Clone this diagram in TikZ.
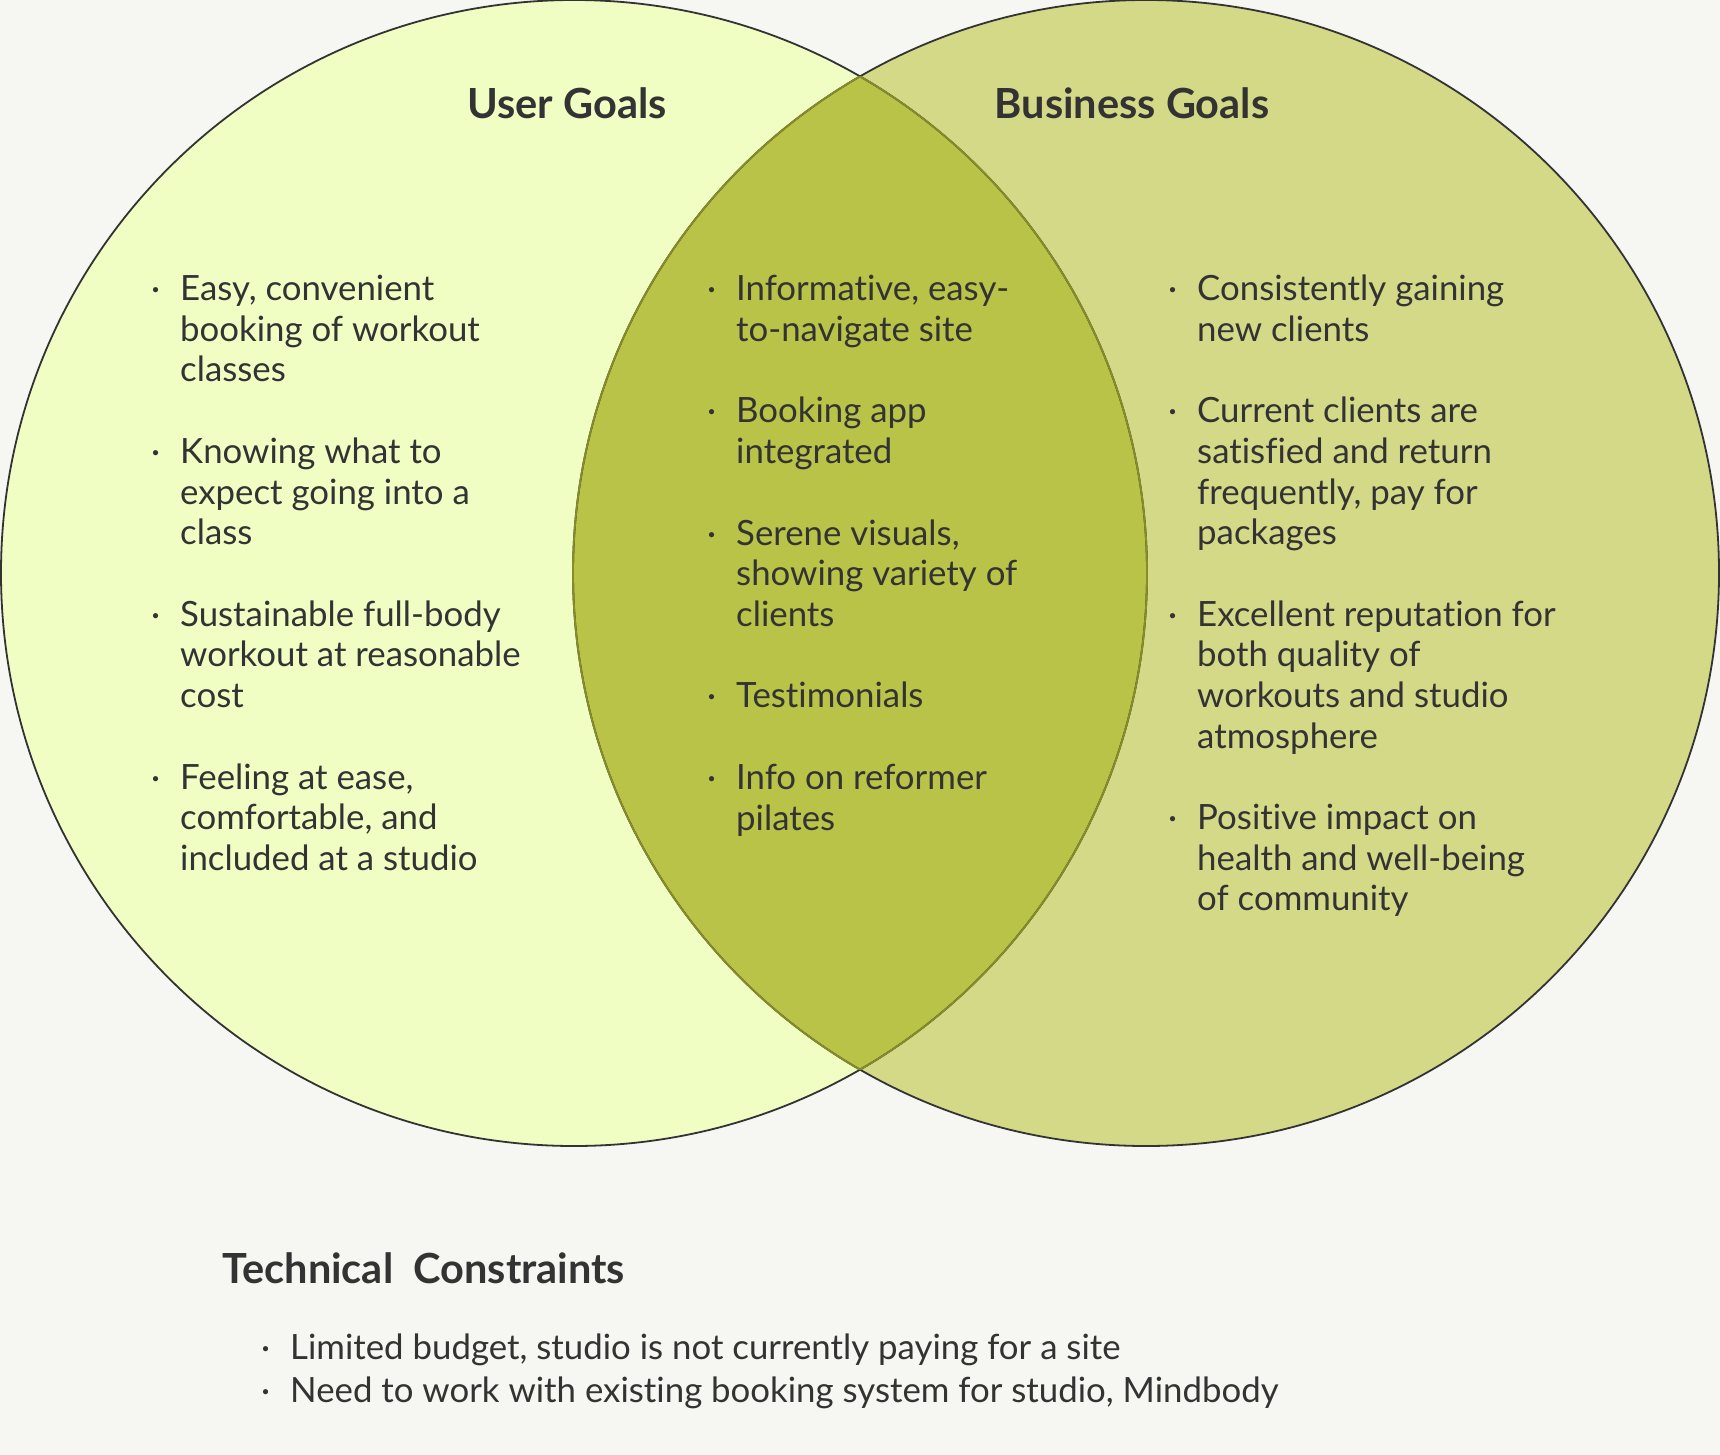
\documentclass[tikz,border=0pt]{standalone}
\usepackage{fontspec}
\setmainfont{Lato}[Ligatures=NoCommon]
\usetikzlibrary{positioning}

\definecolor{bgcol}{HTML}{F6F6F2}
\definecolor{usercol}{HTML}{F0FDC3}
\definecolor{bizcol}{HTML}{D4D987}
\definecolor{bothcol}{HTML}{B9C347}
\definecolor{olivecol}{HTML}{858C28}
\definecolor{inkcol}{HTML}{333333}

\newcommand{\itm}[1]{\llap{·\hspace{20pt}}\strut #1\strut}

\begin{document}
\begin{tikzpicture}[
        x=1pt, y=-1pt,
        node distance=40.6pt,
        goal/.style={circle, minimum size=1146pt, inner sep=0pt},
        title/.style={anchor=base, text=inkcol, font=\fontsize{41.5}{48}\selectfont\bfseries},
        item/.style={anchor=north west, inner sep=0pt, align=left, text=inkcol, font=\fontsize{34.8}{40.6}\selectfont}
    ]

    \useasboundingbox [fill=bgcol] (0,0) rectangle (1720,1455);

    % Circles
    \node (usercirc) [goal, fill=usercol] at (574,573) {};
    \node (bizcirc) [goal, fill=bizcol] at (1146,573) {};
    \begin{scope}
        \clip (574,573) circle [radius=573pt];
        \fill [bothcol] (1146,573) circle [radius=573pt];
    \end{scope}
    \draw [inkcol, line width=1.8pt] (574,573) circle [radius=573pt];
    \draw [inkcol, line width=1.8pt] (1146,573) circle [radius=573pt];
    \begin{scope}
        \clip (574,573) circle [radius=573pt];
        \draw [olivecol, line width=1.8pt] (1146,573) circle [radius=573pt];
    \end{scope}
    \begin{scope}
        \clip (1146,573) circle [radius=573pt];
        \draw [olivecol, line width=1.8pt] (574,573) circle [radius=573pt];
    \end{scope}

    % Titles
    \node (usertitle) [title] at (567,119) {User Goals};
    \node (biztitle) [title] at (1132,119) {Business Goals};

    % User goals
    \node (u1) [item] at (180,272) {\itm{Easy, convenient\\booking of workout\\classes}};
    \node (u2) [item, below=of u1.south west, anchor=north west] {\itm{Knowing what to\\expect going into a\\class}};
    \node (u3) [item, below=of u2.south west, anchor=north west] {\itm{Sustainable full-body\\workout at reasonable\\cost}};
    \node (u4) [item, below=of u3.south west, anchor=north west] {\itm{Feeling at ease,\\comfortable, and\\included at a studio}};

    % Shared goals
    \node (s1) [item] at (736,272) {\itm{Informative, easy-\\to-navigate site}};
    \node (s2) [item, below=of s1.south west, anchor=north west] {\itm{Booking app\\integrated}};
    \node (s3) [item, below=of s2.south west, anchor=north west] {\itm{Serene visuals,\\showing variety of\\clients}};
    \node (s4) [item, below=of s3.south west, anchor=north west] {\itm{Testimonials}};
    \node (s5) [item, below=of s4.south west, anchor=north west] {\itm{Info on reformer\\pilates}};

    % Business goals
    \node (b1) [item] at (1197,272) {\itm{Consistently gaining\\new clients}};
    \node (b2) [item, below=of b1.south west, anchor=north west] {\itm{Current clients are\\satisfied and return\\frequently, pay for\\packages}};
    \node (b3) [item, below=of b2.south west, anchor=north west] {\itm{Excellent reputation for\\both quality of\\workouts and studio\\atmosphere}};
    \node (b4) [item, below=of b3.south west, anchor=north west] {\itm{Positive impact on\\health and well-being\\of community}};

    % Constraints
    \node (techtitle) [title, anchor=base west] at (219,1283) {Technical\ \ Constraints};
    \node (t1) [item] at (290,1331) {\itm{Limited budget, studio is not currently paying for a site}};
    \node (t2) [item, below=2pt of t1.south west, anchor=north west] {\itm{Need to work with existing booking system for studio, Mindbody}};

\end{tikzpicture}
\end{document}
